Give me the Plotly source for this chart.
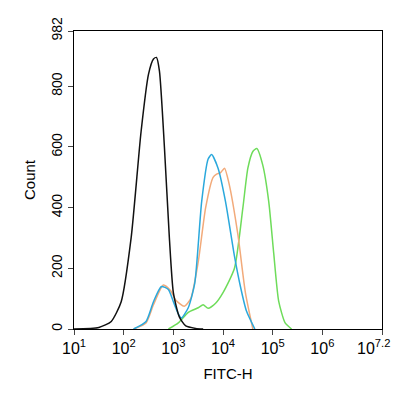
import plotly.graph_objects as go

# log10 of FITC-H and counts
black_x = [1.0, 1.5, 1.75, 1.95, 2.15, 2.35, 2.5, 2.6, 2.66, 2.72, 2.82, 2.92, 3.0, 3.12, 3.25, 3.45, 3.6]
black_y = [0, 5, 25, 90, 300, 650, 840, 890, 895, 850, 600, 300, 120, 40, 10, 2, 0]

blue_x = [2.2, 2.45, 2.6, 2.76, 2.9, 3.0, 3.1, 3.16, 3.3, 3.43, 3.57, 3.7, 3.77, 3.9, 4.05, 4.23, 4.35, 4.47, 4.64]
blue_y = [0, 25, 90, 140, 130, 90, 50, 36, 70, 150, 420, 560, 575, 530, 420, 240, 140, 60, 0]

orange_x = [2.2, 2.45, 2.6, 2.8, 2.95, 3.05, 3.22, 3.35, 3.5, 3.65, 3.8, 3.87, 3.95, 4.03, 4.12, 4.3, 4.45, 4.6]
orange_y = [0, 20, 80, 145, 125, 95, 75, 100, 220, 400, 500, 510, 515, 530, 480, 310, 120, 0]

green_x = [2.9, 3.1, 3.3, 3.5, 3.6, 3.7, 3.85, 4.0, 4.23, 4.4, 4.5, 4.6, 4.68, 4.8, 4.92, 5.02, 5.12, 5.25, 5.38]
green_y = [0, 20, 55, 70, 80, 68, 85, 120, 200, 400, 530, 585, 595, 540, 420, 250, 92, 20, 0]

x_ticks = [1, 2, 3, 4, 5, 6, 7.2]
x_labels = ["10<sup>1</sup>", "10<sup>2</sup>", "10<sup>3</sup>", "10<sup>4</sup>",
            "10<sup>5</sup>", "10<sup>6</sup>", ""]
last_label = "10<sup>7.2</sup>"
y_ticks = [0, 200, 400, 600, 800, 982]

fig = go.Figure()
for xs, ys, col in [(green_x, green_y, "#6edc5a"), (orange_x, orange_y, "#f2aa7a"),
                    (blue_x, blue_y, "#2aa8dc"), (black_x, black_y, "#111111")]:
    fig.add_trace(go.Scatter(x=xs, y=ys, mode="lines",
                             line=dict(color=col, width=1.5, shape="spline", smoothing=0.6)))

# the last tick label would run off the page, so it is placed by hand
fig.add_annotation(x=7.2, y=0, xref="x", yref="paper", text=last_label, showarrow=False,
                   xanchor="right", yanchor="top", xshift=10, yshift=-6,
                   font=dict(size=16, color="black"))

fig.update_xaxes(range=[1, 7.2], tickvals=x_ticks, ticktext=x_labels, ticks="outside",
                 ticklen=5, showgrid=False, zeroline=False, showline=True, mirror=True,
                 linecolor="black", linewidth=1, automargin=False,
                 title=dict(text="FITC-H", font=dict(size=15), standoff=12),
                 tickfont=dict(size=16, color="black"))
fig.update_yaxes(range=[0, 982], tickvals=y_ticks, ticks="outside", ticklen=5,
                 showgrid=False, zeroline=False, showline=True, mirror=True,
                 linecolor="black", linewidth=1, tickangle=-90, automargin=False,
                 title=dict(text="Count", font=dict(size=15), standoff=10),
                 tickfont=dict(size=14, color="black"))
fig.update_layout(width=400, height=400, showlegend=False,
                  margin=dict(l=66, r=26, t=23, b=79),
                  plot_bgcolor="white", paper_bgcolor="white",
                  font=dict(family="Liberation Sans", color="black"))

fig.write_html("out.html")
